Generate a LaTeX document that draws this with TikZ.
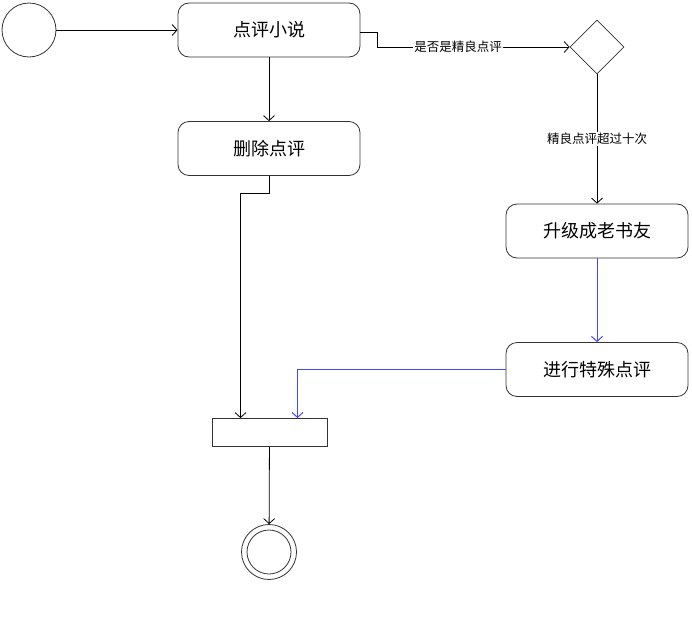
\documentclass[tikz,border=0pt]{standalone}
\usepackage{fontspec}
\setmainfont{Noto Sans CJK SC}
\usetikzlibrary{arrows.meta,shapes.geometric,positioning}
\definecolor{flowblue}{RGB}{70,70,255}

\begin{document}
\begin{tikzpicture}[x=1pt, y=-1pt, line width=0.8pt,
	>={Straight Barb[length=5pt,width=11pt]},
	activity/.style={draw=black!80, rounded corners=11pt, minimum width=182pt, minimum height=54pt, inner sep=0pt, font=\fontsize{18}{21}\selectfont},
	guard/.style={fill=white, inner sep=1pt, font=\fontsize{12.5}{14}\selectfont},
	special flow/.style={color=flowblue, line width=1pt}
]
\useasboundingbox (0,0) rectangle (692,618);

% nodes
\node[circle, draw=black!80, minimum size=54pt, inner sep=0pt] (start) at (29,30) {};
\node[activity] (review) at (269,30) {点评小说};
\node[activity] (delete) at (269,148.5) {删除点评};
\node[diamond, draw=black!80, minimum width=54pt, minimum height=54pt, inner sep=0pt] (check) at (597,47) {};
\node[activity] (upgrade) at (597,231) {升级成老书友};
\node[activity] (special) at (597,369.5) {进行特殊点评};
\node[draw=black!80, minimum width=115pt, minimum height=28pt, inner sep=0pt] (join) at (269.5,432.5) {};
\node[circle, draw=black!80, minimum size=55pt, inner sep=0pt] (stop) at (269,552) {};
\node[circle, draw=black!80, minimum size=44pt, inner sep=0pt] (stop inner) at (stop) {};

% flows
\draw[->] (start) -- (review);
\draw[->] (review) -- (delete);
\draw[->] ([yshift=-2pt]review.east) -- ++(17,0) |- node[guard, pos=0.71] {是否是精良点评} (check.west);
\draw[->] (check) -- node[guard] {精良点评超过十次} (upgrade);
\draw[->] (delete.south) -- ++(0,17) -| ([xshift=-29pt]join.north);
\draw[->, special flow] (upgrade) -- (special);
\draw[->, special flow] (special.west) -| ([xshift=28pt]join.north);
\draw[->] (join) -- (stop);
\end{tikzpicture}
\end{document}
